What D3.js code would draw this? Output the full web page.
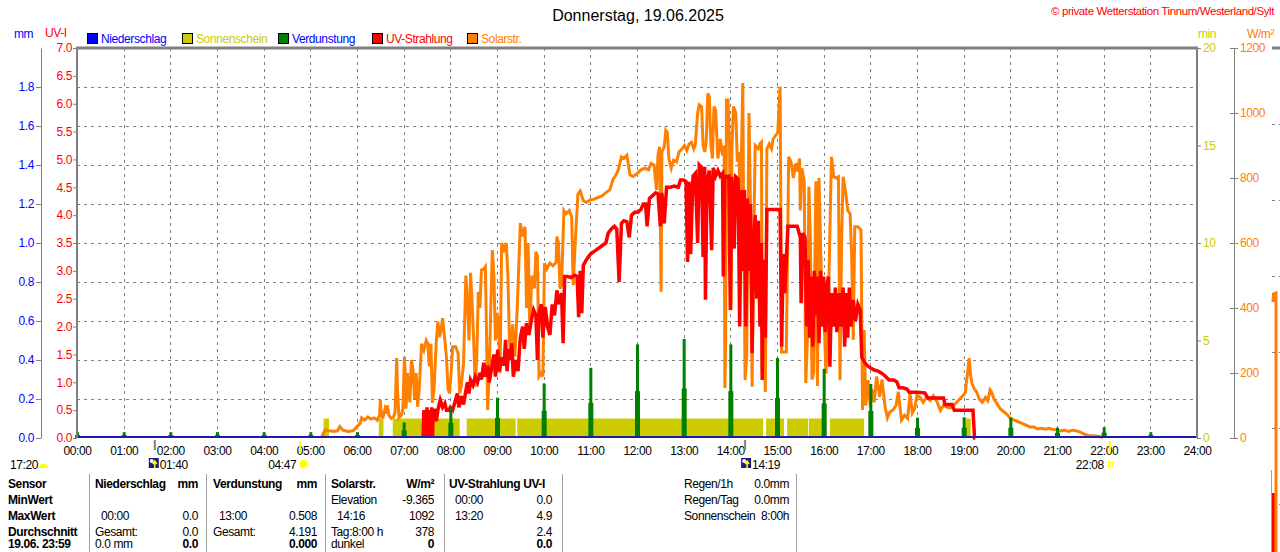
<!DOCTYPE html>
<html>
<head>
<meta charset="utf-8">
<script src="https://cdn.jsdelivr.net/npm/d3@7"></script>
<style>
  body { margin: 0; background: #fff; }
  svg { display: block; font-family: "Liberation Sans", Arial, sans-serif; font-size: 12px; letter-spacing: -0.4px; }
  .grid line { stroke: #808080; stroke-dasharray: 3, 4; }
  .axis path, .axis line { stroke: #808080; }
  .axis text { font-size: 12px; }
  .tbl { fill: #000; }
  .tbl-b { fill: #000; font-weight: bold; }
  .title { letter-spacing: 0; }
</style>
</head>
<body>
<svg id="chart" width="1280" height="552"></svg>
<script>
// ---- data ----
const hourTicks = d3.range(0, 25);
const mmTicks = [0, 0.2, 0.4, 0.6, 0.8, 1.0, 1.2, 1.4, 1.6, 1.8];
const uvTicks = d3.range(0, 7.01, 0.5);
const minTicks = [0, 5, 10, 15, 20];
const wm2Ticks = [0, 200, 400, 600, 800, 1000, 1200];

const rainReadings = [["00:00", 0], ["24:00", 0]];

const evapHours = d3.range(0, 24);
const evapMm = [0.03, 0.03, 0.03, 0.03, 0.03, 0.03, 0.03, 0.08, 0.155, 0.207, 0.28, 0.36,
  0.48, 0.508, 0.48, 0.41, 0.355, 0.277, 0.104, 0.106, 0.105, 0.053, 0.055, 0.03];

const sunStart = ["05:17", "06:28", "06:46", "08:21", "09:26", "14:46", "15:13", "15:41", "16:08", "19:03"];
const sunEnd = ["05:24", "06:34", "08:12", "09:24", "14:42", "15:09", "15:40", "15:59", "16:52", "19:09"];
const sunMinutes = 1;

const solarReadings = [
  ["05:14", 0], ["05:16", 10], ["05:19", 25], ["05:25", 22], ["05:30", 20], ["05:35", 22], ["05:38", 35],
  ["05:42", 24], ["05:48", 20], ["05:55", 22], ["06:00", 35], ["06:04", 45], ["06:06", 62], ["06:10", 55],
  ["06:14", 65], ["06:18", 58], ["06:22", 62], ["06:26", 55], ["06:29", 70], ["06:30", 117], ["06:31", 80],
  ["06:33", 60], ["06:36", 90], ["06:38", 75], ["06:39", 100], ["06:41", 70], ["06:44", 60], ["06:47", 65],
  ["06:49", 80], ["06:51", 246], ["06:52", 150], ["06:54", 62], ["06:57", 70], ["06:59", 90], ["07:01", 250],
  ["07:02", 200], ["07:03", 90], ["07:05", 200], ["07:06", 160], ["07:08", 110], ["07:10", 240], ["07:12", 210],
  ["07:14", 120], ["07:16", 200], ["07:18", 96], ["07:20", 150], ["07:23", 290], ["07:26", 270], ["07:29", 300],
  ["07:31", 290], ["07:33", 220], ["07:35", 290], ["07:37", 108], ["07:39", 150], ["07:42", 300], ["07:44", 358],
  ["07:46", 310], ["07:48", 330], ["07:50", 369], ["07:53", 300], ["07:55", 250], ["07:57", 150], ["07:59", 138],
  ["08:01", 200], ["08:03", 281], ["08:07", 281], ["08:10", 260], ["08:12", 138], ["08:14", 160], ["08:17", 230],
  ["08:20", 500], ["08:22", 420], ["08:24", 300], ["08:26", 508], ["08:28", 420], ["08:30", 300], ["08:32", 158],
  ["08:34", 250], ["08:36", 450], ["08:38", 400], ["08:40", 517], ["08:43", 520], ["08:45", 527], ["08:46", 400],
  ["08:48", 86], ["08:50", 200], ["08:52", 400], ["08:54", 578], ["08:56", 500], ["08:58", 300], ["09:00", 385],
  ["09:02", 360], ["09:04", 200], ["09:06", 600], ["09:09", 580], ["09:12", 600], ["09:14", 500], ["09:16", 300],
  ["09:18", 250], ["09:20", 350], ["09:23", 250], ["09:26", 400], ["09:30", 661], ["09:33", 620], ["09:36", 650],
  ["09:38", 400], ["09:40", 600], ["09:42", 350], ["09:45", 500], ["09:48", 460], ["09:50", 573], ["09:52", 560],
  ["09:54", 189], ["09:57", 200], ["09:59", 189], ["10:01", 538], ["10:04", 520], ["10:08", 538], ["10:12", 530],
  ["10:16", 540], ["10:17", 620], ["10:19", 600], ["10:21", 460], ["10:23", 470], ["10:26", 700], ["10:29", 690],
  ["10:33", 700], ["10:36", 680], ["10:38", 470], ["10:41", 620], ["10:44", 750], ["10:47", 760], ["10:51", 730],
  ["10:55", 725], ["11:00", 733], ["11:05", 735], ["11:10", 740], ["11:15", 745], ["11:20", 755], ["11:25", 763],
  ["11:29", 795], ["11:33", 810], ["11:36", 825], ["11:40", 865], ["11:43", 860], ["11:47", 870], ["11:51", 810],
  ["11:55", 805], ["12:01", 815], ["12:05", 825], ["12:10", 830], ["12:15", 825], ["12:18", 845], ["12:22", 840],
  ["12:25", 763], ["12:27", 870], ["12:29", 896], ["12:31", 450], ["12:32", 880], ["12:35", 896], ["12:37", 947],
  ["12:39", 940], ["12:41", 860], ["12:44", 830], ["12:47", 855], ["12:51", 850], ["12:54", 880], ["12:58", 890],
  ["13:01", 900], ["13:04", 885], ["13:07", 905], ["13:10", 910], ["13:13", 890], ["13:15", 905], ["13:18", 1000],
  ["13:20", 1025], ["13:23", 1020], ["13:25", 900], ["13:27", 880], ["13:29", 910], ["13:31", 1060], ["13:33", 1050],
  ["13:35", 900], ["13:37", 860], ["13:39", 1020], ["13:41", 1010], ["13:44", 860], ["13:47", 920], ["13:50", 870],
  ["13:52", 900], ["13:53", 154], ["13:54", 300], ["13:55", 1040], ["13:57", 1040], ["13:59", 890], ["14:01", 393],
  ["14:02", 890], ["14:04", 1020], ["14:07", 1000], ["14:09", 850], ["14:11", 880], ["14:13", 700], ["14:16", 1092],
  ["14:17", 700], ["14:19", 178], ["14:21", 250], ["14:24", 1000], ["14:26", 700], ["14:28", 158], ["14:30", 600],
  ["14:32", 900], ["14:36", 890], ["14:38", 905], ["14:40", 910], ["14:41", 199], ["14:43", 400], ["14:45", 142],
  ["14:47", 890], ["14:50", 905], ["14:53", 890], ["14:55", 920], ["14:58", 930], ["15:01", 940], ["15:04", 1081],
  ["15:06", 265], ["15:09", 265], ["15:12", 265], ["15:15", 865], ["15:18", 850], ["15:21", 800], ["15:24", 845],
  ["15:26", 820], ["15:29", 860], ["15:30", 700], ["15:32", 830], ["15:35", 790], ["15:37", 169], ["15:39", 300],
  ["15:41", 773], ["15:43", 600], ["15:45", 180], ["15:47", 200], ["15:50", 790], ["15:52", 160], ["15:54", 800],
  ["15:57", 500], ["16:00", 400], ["16:03", 199], ["16:06", 400], ["16:10", 865], ["16:13", 804], ["16:16", 800],
  ["16:19", 804], ["16:21", 178], ["16:23", 600], ["16:25", 804], ["16:28", 760], ["16:31", 700], ["16:34", 690],
  ["16:36", 560], ["16:38", 302], ["16:40", 650], ["16:44", 650], ["16:48", 640], ["16:50", 86], ["16:52", 332],
  ["16:54", 100], ["16:57", 178], ["17:00", 95], ["17:02", 150], ["17:05", 110], ["17:08", 189], ["17:12", 127],
  ["17:15", 180], ["17:19", 95], ["17:22", 62], ["17:25", 80], ["17:29", 86], ["17:33", 100], ["17:36", 142],
  ["17:40", 55], ["17:44", 70], ["17:48", 60], ["17:51", 138], ["17:54", 77], ["17:57", 90], ["18:00", 132],
  ["18:04", 125], ["18:08", 110], ["18:12", 125], ["18:17", 115], ["18:21", 130], ["18:26", 110], ["18:30", 85],
  ["18:34", 100], ["18:38", 95], ["18:43", 92], ["18:47", 100], ["18:51", 110], ["18:55", 120], ["18:59", 130],
  ["19:02", 140], ["19:05", 200], ["19:07", 246], ["19:09", 190], ["19:11", 165], ["19:14", 150], ["19:17", 140],
  ["19:20", 120], ["19:24", 110], ["19:28", 125], ["19:31", 115], ["19:34", 148], ["19:36", 140], ["19:39", 120],
  ["19:43", 105], ["19:47", 90], ["19:52", 80], ["19:56", 72], ["20:00", 60], ["20:05", 55], ["20:10", 50],
  ["20:15", 45], ["20:20", 40], ["20:25", 34], ["20:30", 34], ["20:35", 28], ["20:40", 30], ["20:45", 27],
  ["20:50", 30], ["20:55", 26], ["21:00", 25], ["21:05", 22], ["21:10", 24], ["21:15", 20], ["21:20", 24],
  ["21:25", 22], ["21:30", 18], ["21:35", 12], ["21:40", 8], ["21:45", 7], ["21:50", 6], ["21:55", 5], ["21:59", 0]
];

const uvReadings = [
  ["07:25", 0.0], ["07:26", 0.5], ["07:27", 0.05], ["07:28", 0.5], ["07:29", 0.0], ["07:30", 0.55], ["07:31", 0.1],
  ["07:32", 0.5], ["07:33", 0.0], ["07:34", 0.5], ["07:35", 0.1], ["07:36", 0.55], ["07:37", 0.0], ["07:38", 0.5],
  ["07:40", 0.5], ["07:42", 0.3], ["07:44", 0.5], ["07:47", 0.68], ["07:50", 0.55], ["07:53", 0.62], ["07:55", 0.5],
  ["07:58", 0.5], ["08:00", 0.55], ["08:03", 0.5], ["08:06", 0.65], ["08:09", 0.8], ["08:11", 0.55], ["08:14", 0.75],
  ["08:17", 0.6], ["08:20", 0.85], ["08:22", 1.0], ["08:24", 0.8], ["08:26", 1.04], ["08:29", 0.95], ["08:32", 1.1],
  ["08:35", 1.0], ["08:38", 1.17], ["08:40", 1.05], ["08:43", 1.35], ["08:45", 1.1], ["08:48", 1.3], ["08:50", 1.0],
  ["08:53", 1.25], ["08:56", 1.5], ["08:58", 1.1], ["09:01", 1.58], ["09:03", 1.2], ["09:06", 1.45], ["09:09", 1.3],
  ["09:11", 1.76], ["09:13", 1.2], ["09:15", 1.6], ["09:17", 1.4], ["09:19", 1.7], ["09:21", 1.1], ["09:24", 1.4],
  ["09:27", 1.2], ["09:30", 1.8], ["09:33", 2.0], ["09:35", 1.6], ["09:38", 2.06], ["09:41", 1.85], ["09:44", 2.1],
  ["09:47", 2.3], ["09:50", 2.2], ["09:52", 1.4], ["09:54", 2.25], ["09:57", 2.4], ["09:59", 1.8], ["10:02", 2.35],
  ["10:05", 2.0], ["10:08", 1.85], ["10:11", 2.4], ["10:14", 2.2], ["10:17", 2.65], ["10:20", 2.4], ["10:23", 2.6],
  ["10:25", 1.7], ["10:27", 2.9], ["10:31", 2.9], ["10:35", 2.88], ["10:40", 2.92], ["10:43", 2.9], ["10:45", 2.17],
  ["10:47", 3.0], ["10:49", 2.24], ["10:51", 3.1], ["10:55", 3.2], ["11:00", 3.3], ["11:05", 3.35], ["11:10", 3.4],
  ["11:15", 3.45], ["11:20", 3.5], ["11:23", 3.68], ["11:27", 3.75], ["11:31", 3.8], ["11:34", 3.75], ["11:37", 2.8],
  ["11:40", 3.85], ["11:43", 3.9], ["11:47", 3.88], ["11:50", 3.6], ["11:53", 4.0], ["11:57", 4.05], ["12:01", 4.05],
  ["12:05", 4.1], ["12:08", 4.2], ["12:11", 4.2], ["12:13", 3.8], ["12:16", 4.3], ["12:20", 4.35], ["12:24", 4.4],
  ["12:27", 4.38], ["12:30", 3.8], ["12:32", 4.4], ["12:35", 3.85], ["12:38", 4.5], ["12:43", 4.5], ["12:48", 4.52],
  ["12:53", 4.5], ["12:56", 4.63], ["13:00", 4.63], ["13:03", 4.6], ["13:05", 3.16], ["13:07", 4.6], ["13:09", 3.3],
  ["13:12", 4.7], ["13:15", 4.75], ["13:18", 3.5], ["13:20", 4.9], ["13:23", 4.85], ["13:25", 3.25], ["13:27", 4.87],
  ["13:28", 2.48], ["13:30", 4.6], ["13:33", 4.8], ["13:36", 3.37], ["13:38", 4.85], ["13:41", 4.7], ["13:44", 4.8],
  ["13:47", 4.7], ["13:50", 4.75], ["13:51", 2.9], ["13:53", 4.7], ["13:56", 4.69], ["13:58", 4.7], ["14:00", 2.3],
  ["14:02", 4.69], ["14:05", 3.4], ["14:07", 4.69], ["14:10", 4.65], ["14:12", 2.0], ["14:14", 4.45], ["14:16", 3.0],
  ["14:18", 4.45], ["14:20", 2.0], ["14:22", 4.3], ["14:24", 3.0], ["14:26", 4.2], ["14:28", 1.52], ["14:30", 3.5],
  ["14:32", 4.0], ["14:34", 2.5], ["14:36", 3.9], ["14:38", 2.0], ["14:40", 3.5], ["14:41", 1.04], ["14:43", 3.2],
  ["14:45", 1.8], ["14:47", 4.1], ["14:52", 4.1], ["14:57", 4.1], ["15:02", 4.1], ["15:04", 4.1], ["15:06", 1.64],
  ["15:08", 3.3], ["15:10", 2.6], ["15:12", 3.2], ["15:14", 3.8], ["15:20", 3.8], ["15:26", 3.8], ["15:30", 3.6],
  ["15:31", 2.42], ["15:33", 3.68], ["15:36", 3.6], ["15:38", 2.0], ["15:40", 3.2], ["15:42", 1.8], ["15:44", 2.9],
  ["15:46", 1.64], ["15:48", 3.0], ["15:50", 2.2], ["15:52", 2.9], ["15:54", 1.7], ["15:56", 3.0], ["15:58", 2.0],
  ["16:00", 2.9], ["16:02", 1.9], ["16:04", 2.7], ["16:06", 2.9], ["16:08", 1.28], ["16:10", 2.6], ["16:13", 2.0],
  ["16:15", 2.7], ["16:17", 1.9], ["16:20", 2.6], ["16:22", 2.0], ["16:25", 2.7], ["16:27", 1.64], ["16:29", 2.6],
  ["16:31", 1.8], ["16:33", 2.7], ["16:35", 2.0], ["16:38", 2.48], ["16:41", 2.1], ["16:44", 2.4], ["16:47", 2.3],
  ["16:49", 1.45], ["16:51", 1.4], ["16:53", 1.35], ["16:56", 1.3], ["17:00", 1.26], ["17:05", 1.22], ["17:10", 1.2],
  ["17:15", 1.16], ["17:20", 1.1], ["17:24", 1.04], ["17:30", 1.04], ["17:34", 1.01], ["17:37", 0.9], ["17:42", 0.9],
  ["17:47", 0.88], ["17:50", 0.82], ["18:00", 0.82], ["18:10", 0.81], ["18:14", 0.72], ["18:25", 0.72], ["18:34", 0.72],
  ["18:36", 0.6], ["18:45", 0.6], ["18:48", 0.5], ["19:00", 0.5], ["19:10", 0.5], ["19:12", 0.5], ["19:14", 0.0],
  ["19:15", 0.0]
];

const legendItems = ["Niederschlag", "Sonnenschein", "Verdunstung", "UV-Strahlung", "Solarstr."];
const legendBox = ["#0000ff", "#cccc00", "#008000", "#ff0000", "#ff8000"];
const legendText = ["#0000ff", "#cccc00", "#0000ff", "#ff0000", "#ff8000"];

const astroTimes = { moonset: "17:20", moonrise: "01:40", sunrise: "04:47", moonSouth: "14:19", sunset: "22:08" };

// table cells: [left text, right text] per row (leading space = indented)
const tableSensor = ["Sensor", "MinWert", "MaxWert", "Durchschnitt", "19.06. 23:59"];
const tableRain = [["Niederschlag", "mm"], ["", ""], [" 00:00", "0.0"], ["Gesamt:", "0.0"], ["0.0 mm", "0.0"]];
const tableEvap = [["Verdunstung", "mm"], ["", ""], [" 13:00", "0.508"], ["Gesamt:", "4.191"], ["", "0.000"]];
const tableSolar = [["Solarstr.", "W/m²"], ["Elevation", "-9.365"], [" 14:16", "1092"], ["Tag:8:00 h", "378"], ["dunkel", "0"]];
const tableUv = [["UV-Strahlung UV-I", ""], [" 00:00", "0.0"], [" 13:20", "4.9"], ["", "2.4"], ["", "0.0"]];
const tableExtra = [["Regen/1h", "0.0mm"], ["Regen/Tag", "0.0mm"], ["Sonnenschein", "8:00h"]];

// ---- layout ----
const DIMS = { LEFT: 77, RIGHT: 1197, TOP: 48, BOTTOM: 438, MM_AXIS: 41, WM2_AXIS: 1234 };
const COLORS = { grid: "#808080", rain: "#1c1ca8", sun: "#cccc00", evap: "#008000", uv: "#ff0000", solar: "#ff8000" };

const toHours = (s) => { const [h, m] = s.split(":").map(Number); return h + m / 60; };

const svg = d3.select("#chart");

const x = d3.scaleLinear().domain([0, 24]).range([DIMS.LEFT, DIMS.RIGHT]);
const yMm = d3.scaleLinear().domain([0, 2]).range([DIMS.BOTTOM, DIMS.TOP]);
const yUv = d3.scaleLinear().domain([0, 7]).range([DIMS.BOTTOM, DIMS.TOP]);
const yMin = d3.scaleLinear().domain([0, 20]).range([DIMS.BOTTOM, DIMS.TOP]);
const ySolar = d3.scaleLinear().domain([0, 1200]).range([DIMS.BOTTOM, DIMS.TOP]);

// grid
svg.append("g").attr("class", "grid")
  .call((g) => g.selectAll("line.v").data(hourTicks.slice(1, 24)).join("line")
    .attr("x1", (d) => Math.round(x(d)) + 0.5).attr("x2", (d) => Math.round(x(d)) + 0.5)
    .attr("y1", DIMS.TOP).attr("y2", DIMS.BOTTOM))
  .call((g) => g.selectAll("line.h").data(mmTicks.slice(1)).join("line")
    .attr("x1", DIMS.LEFT).attr("x2", DIMS.RIGHT)
    .attr("y1", (d) => Math.round(yMm(d)) + 0.5).attr("y2", (d) => Math.round(yMm(d)) + 0.5));

// sunshine
svg.append("g")
  .selectAll("rect").data(sunStart).join("rect")
  .attr("x", (d) => x(toHours(d)))
  .attr("width", (d, i) => x(toHours(sunEnd[i])) - x(toHours(d)))
  .attr("y", yMin(sunMinutes))
  .attr("height", yMin(0) - yMin(sunMinutes))
  .attr("fill", COLORS.sun);

// solar radiation
svg.append("path")
  .datum(solarReadings)
  .attr("fill", "none")
  .attr("stroke", COLORS.solar)
  .attr("stroke-width", 3)
  .attr("d", d3.line().x((d) => x(toHours(d[0]))).y((d) => ySolar(d[1])));

// uv
svg.append("path")
  .datum(uvReadings)
  .attr("fill", "none")
  .attr("stroke", COLORS.uv)
  .attr("stroke-width", 3.5)
  .attr("d", d3.line().x((d) => x(toHours(d[0]))).y((d) => yUv(d[1])));

// evaporation: narrow tall spike + wider lower foot
svg.append("g")
  .selectAll("g").data(evapHours).join("g")
  .call((g) => g.append("rect")
    .attr("x", (d) => x(d) - 1)
    .attr("width", 3)
    .attr("y", (d, i) => yMm(evapMm[i]))
    .attr("height", (d, i) => yMm(0) - yMm(evapMm[i]))
    .attr("fill", COLORS.evap))
  .call((g) => g.append("rect")
    .attr("x", (d) => x(d) - 2)
    .attr("width", 5)
    .attr("y", (d, i) => yMm(evapMm[i] / 2))
    .attr("height", (d, i) => yMm(0) - yMm(evapMm[i] / 2))
    .attr("fill", COLORS.evap));

// precipitation (zero line)
svg.append("path")
  .datum(rainReadings)
  .attr("fill", "none")
  .attr("stroke", COLORS.rain)
  .attr("stroke-width", 2)
  .attr("d", d3.line().x((d) => x(toHours(d[0]))).y((d) => yMm(d[1]) - 1));

// frame
svg.append("g")
  .call((g) => g.append("line").attr("x1", DIMS.LEFT - 1).attr("x2", DIMS.RIGHT + 1)
    .attr("y1", DIMS.TOP).attr("y2", DIMS.TOP).attr("stroke", "#808080").attr("stroke-width", 3))
  .call((g) => g.append("line").attr("x1", DIMS.LEFT).attr("x2", DIMS.LEFT)
    .attr("y1", DIMS.TOP).attr("y2", DIMS.BOTTOM).attr("stroke", "#808080").attr("stroke-width", 2))
  .call((g) => g.append("line").attr("x1", DIMS.RIGHT).attr("x2", DIMS.RIGHT)
    .attr("y1", DIMS.TOP).attr("y2", DIMS.BOTTOM).attr("stroke", "#808080").attr("stroke-width", 2));

// axes
const styleAxis = (g, color) => {
  g.attr("class", "axis");
  g.selectAll("text").attr("fill", color);
};

svg.append("g")
  .attr("transform", `translate(0,${DIMS.BOTTOM})`)
  .call(d3.axisBottom(x).tickValues(hourTicks).tickSize(0).tickPadding(8)
    .tickFormat((d) => String(d).padStart(2, "0") + ":00"))
  .call((g) => styleAxis(g, "#000"))
  .call((g) => g.select(".domain").remove());

svg.append("g")
  .attr("transform", `translate(${DIMS.MM_AXIS},0)`)
  .call(d3.axisLeft(yMm).tickValues(mmTicks).tickSize(5).tickPadding(2).tickSizeOuter(0).tickFormat(d3.format(".1f")))
  .call((g) => styleAxis(g, "#0000ff"));

svg.append("g")
  .attr("transform", `translate(${DIMS.LEFT},0)`)
  .call(d3.axisLeft(yUv).tickValues(uvTicks).tickSize(4).tickPadding(1).tickSizeOuter(0).tickFormat(d3.format(".1f")))
  .call((g) => styleAxis(g, "#ff0000"))
  .call((g) => g.select(".domain").remove());

svg.append("g")
  .attr("transform", `translate(${DIMS.RIGHT},0)`)
  .call(d3.axisRight(yMin).tickValues(minTicks).tickSize(4).tickPadding(2).tickSizeOuter(0))
  .call((g) => styleAxis(g, "#cccc00"))
  .call((g) => g.select(".domain").remove());

svg.append("g")
  .attr("transform", `translate(${DIMS.WM2_AXIS},0)`)
  .call(d3.axisRight(ySolar).tickValues(wm2Ticks).tickSize(4).tickPadding(2).tickSizeOuter(0).tickFormat(d3.format("d")))
  .call((g) => styleAxis(g, "#ff8000"))
  .call((g) => g.selectAll(".tick line").attr("x1", -4));

// unit labels
svg.append("g")
  .call((g) => g.append("text").attr("x", 14).attr("y", 38).attr("fill", "#0000ff").text("mm"))
  .call((g) => g.append("text").attr("x", 45).attr("y", 37).attr("fill", "#ff0000").text("UV-I"))
  .call((g) => g.append("text").attr("x", 1198).attr("y", 38).attr("fill", "#cccc00").text("min"))
  .call((g) => g.append("text").attr("x", 1247).attr("y", 38).attr("fill", "#ff8000").text("W/m²"));

// title + copyright
svg.append("text").attr("class", "title").attr("x", 638).attr("y", 21).attr("text-anchor", "middle")
  .attr("font-size", 16).text("Donnerstag, 19.06.2025");
svg.append("text").attr("x", 1274).attr("y", 15).attr("text-anchor", "end")
  .attr("font-size", 11.5).attr("fill", "#ff0000").text("© private Wetterstation Tinnum/Westerland/Sylt");

// legend
const legendX = [87, 182, 278, 372, 467];
svg.append("g")
  .selectAll("g").data(legendItems).join("g")
  .attr("transform", (d, i) => `translate(${legendX[i]},33)`)
  .call((g) => g.append("rect").attr("x", 0.5).attr("y", 0.5).attr("width", 10).attr("height", 10)
    .attr("fill", (d, i) => legendBox[i]).attr("stroke", "#000"))
  .call((g) => g.append("text").attr("x", 14).attr("y", 9.5)
    .attr("fill", (d, i) => legendText[i]).text((d) => d));

// astro markers under axis
const astro = svg.append("g");
const tMoonrise = x(toHours(astroTimes.moonrise));
const tSunrise = x(toHours(astroTimes.sunrise));
const tMoonSouth = x(toHours(astroTimes.moonSouth));
const tSunset = x(toHours(astroTimes.sunset));
astro.append("line").attr("x1", tMoonrise).attr("x2", tMoonrise).attr("y1", 440).attr("y2", 450)
  .attr("stroke", "#808080").attr("stroke-width", 2);
astro.append("line").attr("x1", tMoonSouth).attr("x2", tMoonSouth).attr("y1", 440).attr("y2", 450)
  .attr("stroke", "#808080").attr("stroke-width", 2);
astro.append("line").attr("x1", tSunrise).attr("x2", tSunrise).attr("y1", 441).attr("y2", 453)
  .attr("stroke", "#ffff00").attr("stroke-width", 2);
astro.append("line").attr("x1", tSunset).attr("x2", tSunset).attr("y1", 441).attr("y2", 453)
  .attr("stroke", "#ffff00").attr("stroke-width", 2);

const moonIcon = (g, cx) => g.append("g").attr("transform", `translate(${cx},458)`)
  .call((s) => s.append("rect").attr("width", 10).attr("height", 10).attr("fill", "#1a1a80"))
  .call((s) => s.append("circle").attr("cx", 3).attr("cy", 3).attr("r", 2).attr("fill", "#fff"))
  .call((s) => s.append("path").attr("d", "M6,10 V4 M4,6 L6,3 L8,6").attr("stroke", "#ffff00")
    .attr("stroke-width", 1.5).attr("fill", "none"));

astro.append("text").attr("x", 10).attr("y", 469).text(astroTimes.moonset);
astro.append("path").attr("d", "M39,468 A4.5,4.5 0 0 1 48,468 Z").attr("fill", "#ffff00");
moonIcon(astro, tMoonrise - 6);
astro.append("text").attr("x", tMoonrise + 5).attr("y", 469).text(astroTimes.moonrise);
astro.append("text").attr("x", tSunrise - 4).attr("y", 469).attr("text-anchor", "end").text(astroTimes.sunrise);
astro.append("g").attr("transform", `translate(${tSunrise + 3},464)`)
  .call((s) => s.append("circle").attr("r", 4).attr("fill", "#ffff00"))
  .call((s) => s.append("circle").attr("r", 6).attr("fill", "none").attr("stroke", "#ffff80")
    .attr("stroke-dasharray", "2,2"));
moonIcon(astro, tMoonSouth - 4);
astro.append("text").attr("x", tMoonSouth + 7).attr("y", 469).text(astroTimes.moonSouth);
astro.append("text").attr("x", tSunset - 6).attr("y", 469).attr("text-anchor", "end").text(astroTimes.sunset);
astro.append("rect").attr("x", tSunset - 1.5).attr("y", 462.5).attr("width", 4).attr("height", 4)
  .attr("fill", "none").attr("stroke", "#ffff00");

// stats table
const rowY = [488, 504, 520, 536, 548];
const table = svg.append("g");
[89, 206, 325, 444, 562, 796].forEach((sx) =>
  table.append("line").attr("x1", sx + 0.5).attr("x2", sx + 0.5).attr("y1", 474).attr("y2", 552)
    .attr("stroke", "#a0a0a0"));
table.selectAll("text.sensor").data(tableSensor).join("text")
  .attr("class", "tbl-b").attr("x", 8).attr("y", (d, i) => rowY[i]).text((d) => d);

const tableColumn = (cells, left, right) => {
  cells.forEach(([l, r], i) => {
    table.append("text").attr("class", i === 0 ? "tbl-b" : "tbl")
      .attr("x", left + (l.startsWith(" ") ? 6 : 0)).attr("y", rowY[i]).text(l.trim());
    table.append("text").attr("class", i === 0 || i === 4 ? "tbl-b" : "tbl")
      .attr("x", right).attr("y", rowY[i]).attr("text-anchor", "end").text(r);
  });
};
tableColumn(tableRain, 95, 198);
tableColumn(tableEvap, 213, 317);
tableColumn(tableSolar, 331, 434);
tableColumn(tableUv, 449, 552);
tableExtra.forEach(([l, r], i) => {
  table.append("text").attr("class", "tbl").attr("x", 684).attr("y", rowY[i]).text(l);
  table.append("text").attr("class", "tbl").attr("x", 789).attr("y", rowY[i]).attr("text-anchor", "end").text(r);
});

// neighbouring chart fragment at the far right edge
svg.append("g")
  .call((g) => g.append("line").attr("x1", 1272).attr("x2", 1280).attr("y1", 48).attr("y2", 48)
    .attr("stroke", "#808080").attr("stroke-width", 3))
  .call((g) => g.selectAll("line.d").data([124, 200, 276, 352, 428, 504]).join("line")
    .attr("x1", 1272).attr("x2", 1280).attr("y1", (d) => d + 0.5).attr("y2", (d) => d + 0.5)
    .attr("stroke", "#808080").attr("stroke-dasharray", "3,4"))
  .call((g) => g.append("line").attr("x1", 1271.5).attr("x2", 1271.5).attr("y1", 470).attr("y2", 552)
    .attr("stroke", "#a0a0a0"))
  .call((g) => g.append("rect").attr("x", 1272).attr("y", 493).attr("width", 3).attr("height", 59)
    .attr("fill", "#ff0000"))
  .call((g) => g.append("path").attr("d", "M1273,302 L1273.5,294 L1276,293 L1276,552")
    .attr("stroke", "#ff8000").attr("stroke-width", 3).attr("fill", "none"));
</script>
</body>
</html>
